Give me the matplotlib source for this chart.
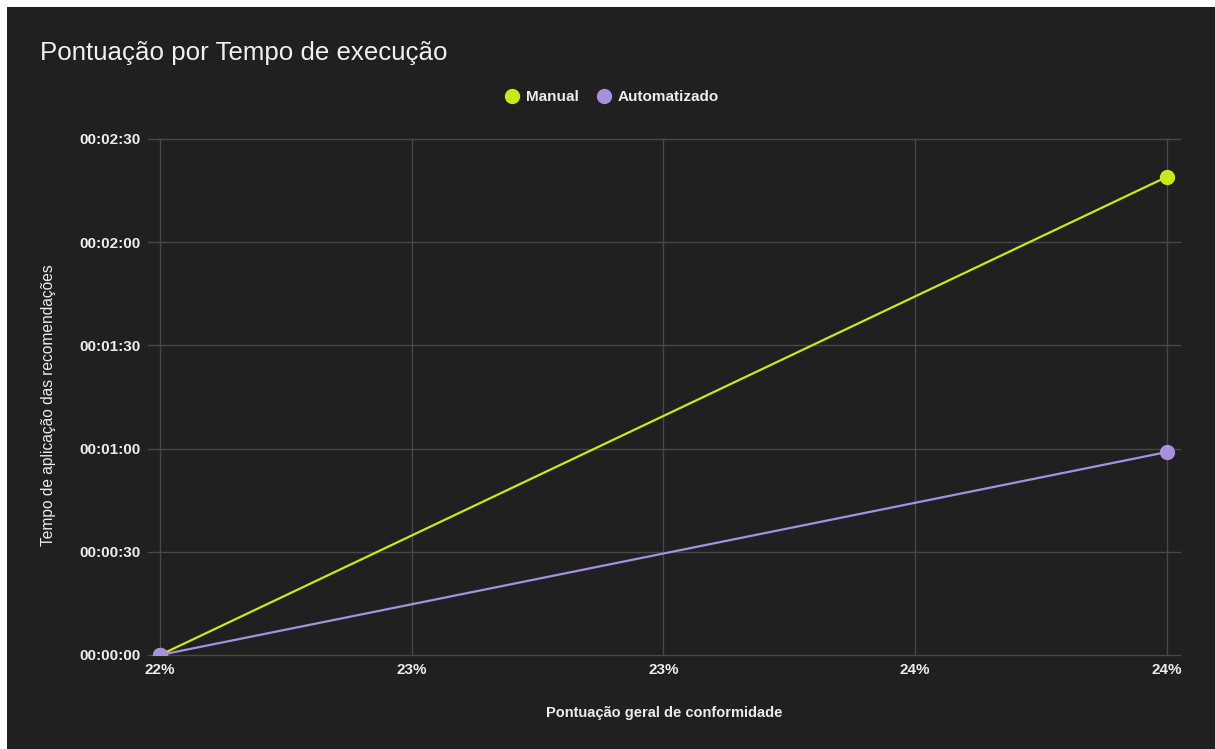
import matplotlib.pyplot as plt
from matplotlib.patches import Rectangle
from matplotlib.ticker import FuncFormatter

# dados
pontuacao = [22, 24]
manual_seg = [0, 139]
auto_seg = [0, 59]
x_ticks = [22, 22.5, 23, 23.5, 24]
x_tick_labels = ['22%', '23%', '23%', '24%', '24%']
y_ticks = [0, 30, 60, 90, 120, 150]

bg = '#202020'
grid_c = '#474747'
txt = '#ececec'
cor_manual = '#c5ec17'
cor_auto = '#a98fe0'

plt.rcParams['font.family'] = ['Liberation Sans', 'DejaVu Sans']

W, H = 1215, 749
fig = plt.figure(figsize=(W / 100, H / 100), dpi=100, facecolor='white')
fig.patches.append(Rectangle((7 / W, 0), 1, 1 - 7 / H, transform=fig.transFigure,
                             facecolor=bg, edgecolor='none', zorder=-1))

ax = fig.add_axes([148 / W, 1 - 655 / H, (1180 - 148) / W, (655 - 139) / H])
ax.set_facecolor(bg)
ax.set_xlim(21.976, 24.026)
ax.set_ylim(0, 150)

ax.plot(pontuacao, manual_seg, '-o', color=cor_manual, lw=1.6, ms=10, label='Manual', zorder=3)
ax.plot(pontuacao, auto_seg, '-o', color=cor_auto, lw=1.6, ms=10, label='Automatizado', zorder=3)

ax.set_xticks(x_ticks)
ax.set_xticklabels(x_tick_labels)
ax.set_yticks(y_ticks)
ax.yaxis.set_major_formatter(FuncFormatter(
    lambda v, p: '%02d:%02d:%02d' % (v // 3600, (v % 3600) // 60, v % 60)))
ax.grid(True, color=grid_c, lw=1)
for gl in ax.get_xgridlines() + ax.get_ygridlines():
    gl.set_clip_on(False)
ax.set_axisbelow(True)
for s in ax.spines.values():
    s.set_visible(False)
ax.tick_params(length=0, colors=txt, labelsize=11)
ax.tick_params(axis='y', pad=5)
ax.tick_params(axis='x', pad=6)
for lab in ax.get_xticklabels() + ax.get_yticklabels():
    lab.set_fontweight('bold')

ax.set_xlabel('Pontuação geral de conformidade', color=txt, fontsize=10.5,
              fontweight='bold', labelpad=21)
ax.set_ylabel('Tempo de aplicação das recomendações', color=txt, fontsize=11.2)
ax.yaxis.set_label_coords(-0.089, 0.485)

fig.text(40 / W, 1 - 53 / H, 'Pontuação por Tempo de execução', color='#f0f0f0',
         fontsize=18.6, va='center', ha='left')

leg = fig.legend(loc='center', bbox_to_anchor=(613 / W, 1 - 97 / H), ncol=2, frameon=False,
                 handlelength=0.7, handletextpad=0.55, columnspacing=1.3,
                 prop={'size': 11, 'weight': 'bold'})
for t in leg.get_texts():
    t.set_color(txt)
for h in leg.legend_handles:
    h.set_linestyle('none')
    h.set_markersize(10)

fig.savefig('out.png', dpi=100, facecolor=fig.get_facecolor())
